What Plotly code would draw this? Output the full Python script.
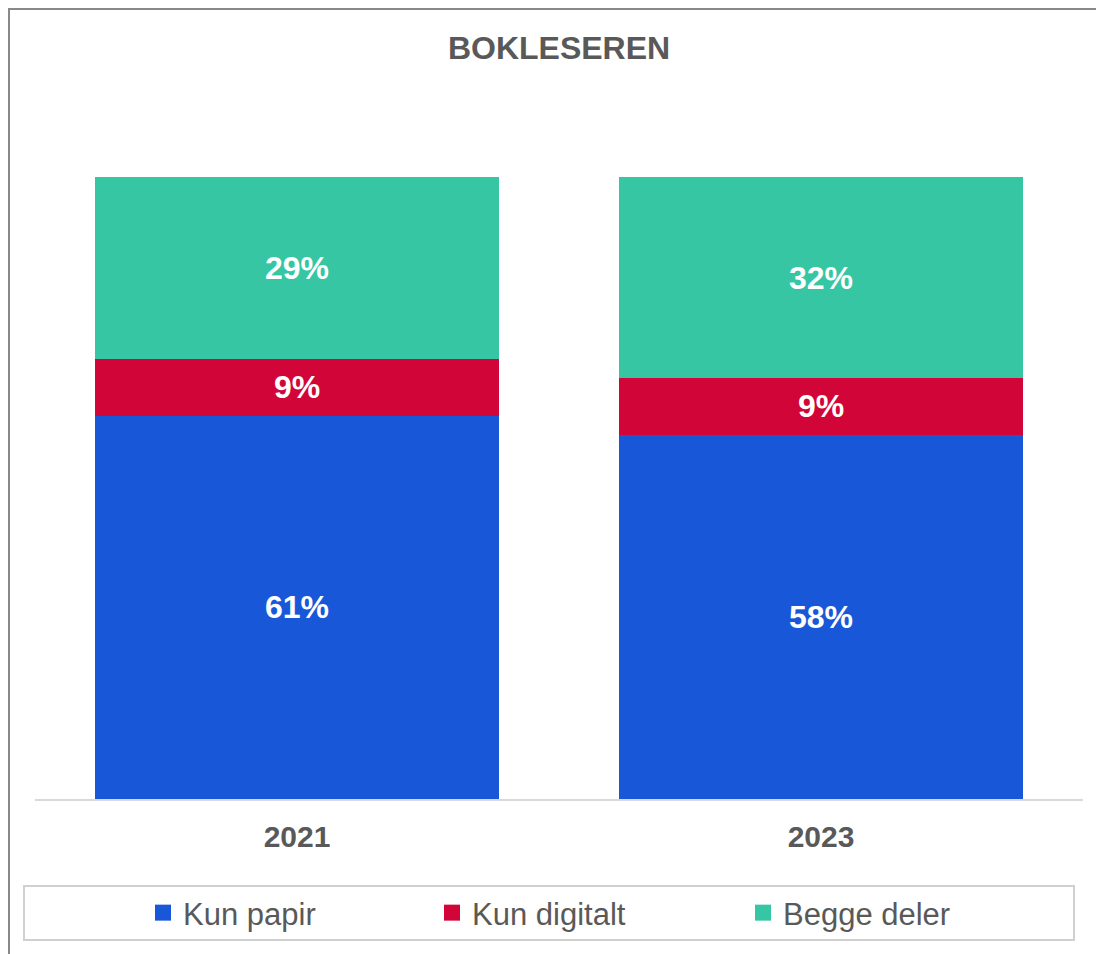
import plotly.graph_objects as go

years = ["2021", "2023"]
kun_papir = [61, 58]
kun_digitalt = [9, 9]
begge_deler = [29, 32]
series_names = ["Kun papir", "Kun digitalt", "Begge deler"]
colors = ["#1957D9", "#D10537", "#36C6A3"]

# page offset (browser body margin) compensation
OFF = 8
W, H = 1104 - OFF, 954 - OFF
# plot area in reference page pixels: x 35..1083, y 177(=99%)..799
ML = 35 - OFF
MR = 1104 - 1083
MB = 954 - 799
MT = 100 - OFF
PW, PH = W - ML - MR, H - MT - MB
FONT = "Arial, Liberation Sans, sans-serif"
GRAY = "#595959"

def px(x):
    return (x - OFF - ML) / PW

def py(y):
    return (H - MB - (y - OFF)) / PH

fig = go.Figure()
for name, vals, col in zip(series_names, [kun_papir, kun_digitalt, begge_deler], colors):
    fig.add_trace(go.Bar(
        x=years, y=vals, name=name, marker=dict(color=col, line=dict(width=0)),
        text=[f"{v}%" for v in vals], textposition="inside", insidetextanchor="middle",
        textangle=0, constraintext="none",
        textfont=dict(family=FONT, size=32, color="white", weight="bold"),
        showlegend=False, hoverinfo="skip",
    ))

legend_x = [143, 432, 743]
for i, (name, col) in enumerate(zip(series_names, colors)):
    lg = "legend" if i == 0 else f"legend{i+1}"
    fig.add_trace(go.Scatter(
        x=[None], y=[None], mode="markers", name=name, legend=lg,
        marker=dict(symbol="square", size=16, color=col), showlegend=True,
    ))

legend_common = dict(
    orientation="h", yanchor="middle", y=py(913), xanchor="left",
    bgcolor="rgba(0,0,0,0)", borderwidth=0,
    font=dict(family=FONT, size=31, color=GRAY),
)

fig.update_layout(
    width=W, height=H,
    margin=dict(l=ML, r=MR, t=MT, b=MB),
    paper_bgcolor="white", plot_bgcolor="white",
    barmode="stack", bargap=0.23,
    title=dict(text="<b>BOKLESEREN</b>", x=0.5, xref="paper", xanchor="center",
               y=1 - (48 - OFF) / H, yref="container", yanchor="middle",
               font=dict(family=FONT, size=32, color=GRAY)),
    xaxis=dict(showline=True, linecolor="#D9D9D9", linewidth=2, showgrid=False,
               ticks="", ticklabelstandoff=10, zeroline=False,
               tickfont=dict(family=FONT, size=30, color=GRAY, weight="bold")),
    yaxis=dict(range=[0, 99 * PH / 622], visible=False, showgrid=False, zeroline=False),
    legend=dict(x=px(legend_x[0]), **legend_common),
    legend2=dict(x=px(legend_x[1]), **legend_common),
    legend3=dict(x=px(legend_x[2]), **legend_common),
    shapes=[
        dict(type="rect", xref="paper", yref="paper", x0=px(9), x1=px(1112), y0=py(962), y1=py(9),
             line=dict(color="#898989", width=2), fillcolor="rgba(0,0,0,0)", layer="above"),
        dict(type="rect", xref="paper", yref="paper", x0=px(24), x1=px(1074), y0=py(940), y1=py(886),
             line=dict(color="#D0D0D0", width=2), fillcolor="rgba(0,0,0,0)", layer="above"),
    ],
)

fig.write_html("out.html")
